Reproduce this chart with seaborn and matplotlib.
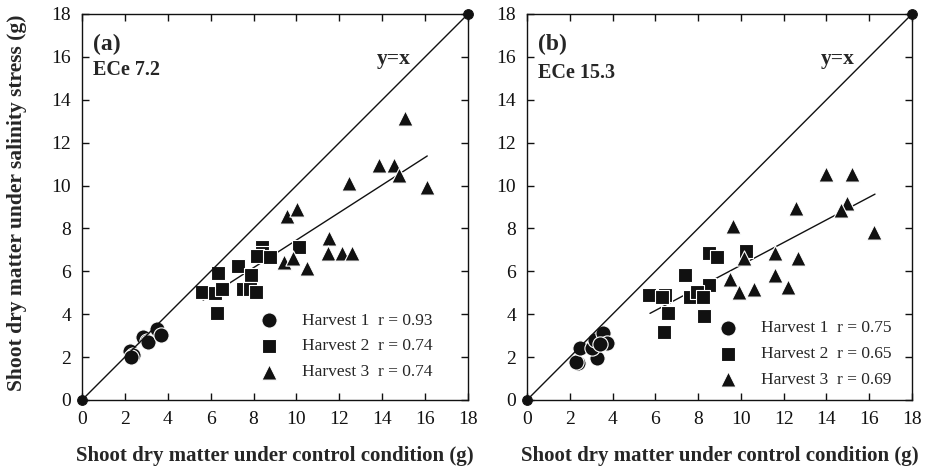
import numpy as np
import pandas as pd
import matplotlib
matplotlib.use("Agg")
import matplotlib.pyplot as plt
import seaborn as sns

# ---------------- data ----------------
ticks = [0, 2, 4, 6, 8, 10, 12, 14, 16, 18]
ref_x = [0, 18]
ref_y = [0, 18]

# Panel (a) ECe 7.2
a_h1_x = [2.24, 2.39, 2.30, 2.86, 3.02, 3.10, 3.48, 3.67]
a_h1_y = [2.29, 2.10, 2.00, 2.92, 2.77, 2.72, 3.30, 3.03]
a_h2_x = [10.14, 8.38, 8.38, 8.18, 8.77, 7.29, 6.36, 7.88, 5.58, 6.20, 6.52, 7.52, 7.84, 8.12, 6.31]
a_h2_y = [7.12, 7.15, 6.84, 6.72, 6.65, 6.25, 5.90, 5.83, 5.05, 5.00, 5.16, 5.16, 5.16, 5.05, 4.07]
a_h3_x = [13.87, 14.55, 14.80, 12.47, 16.08, 9.55, 10.04, 11.52, 11.49, 12.11, 12.60, 9.44, 9.83, 10.51, 15.07]
a_h3_y = [10.96, 10.96, 10.50, 10.13, 9.95, 8.58, 8.89, 7.54, 6.84, 6.84, 6.84, 6.45, 6.60, 6.17, 13.15]
a_fit_x = [5.65, 16.10]
a_fit_y = [4.66, 11.38]
a_labels = ["Harvest 1  r = 0.93", "Harvest 2  r = 0.74", "Harvest 3  r = 0.74"]

# Panel (b) ECe 15.3
b_h1_x = [2.40, 2.30, 2.48, 3.26, 3.02, 3.18, 3.57, 3.75, 3.40]
b_h1_y = [1.71, 1.75, 2.41, 1.94, 2.41, 2.80, 3.11, 2.64, 2.60]
b_h2_x = [8.52, 8.87, 10.24, 7.39, 8.52, 5.72, 6.45, 6.30, 7.62, 7.96, 8.24, 6.60, 8.29, 6.42]
b_h2_y = [6.84, 6.65, 6.96, 5.83, 5.36, 4.90, 4.90, 4.82, 4.82, 5.05, 4.82, 4.04, 3.93, 3.16]
b_h3_x = [13.98, 15.18, 14.95, 14.67, 12.58, 16.22, 9.65, 10.16, 11.59, 12.65, 11.59, 12.22, 9.49, 9.91, 10.63]
b_h3_y = [10.54, 10.54, 9.20, 8.86, 8.94, 7.85, 8.12, 6.61, 6.84, 6.61, 5.83, 5.28, 5.63, 5.05, 5.16]
b_fit_x = [5.75, 16.27]
b_fit_y = [4.04, 9.60]
b_labels = ["Harvest 1  r = 0.75", "Harvest 2  r = 0.65", "Harvest 3  r = 0.69"]

panels = [
    dict(tag="(a)", ece="ECe 7.2", ece_y=15.4, h=[(a_h1_x, a_h1_y), (a_h2_x, a_h2_y), (a_h3_x, a_h3_y)],
         fit=(a_fit_x, a_fit_y), labels=a_labels, pos=[82/926, 1-400/475, 386/926, 386/475],
         legend_anchor=(0.94, 0.02)),
    dict(tag="(b)", ece="ECe 15.3", ece_y=15.25, h=[(b_h1_x, b_h1_y), (b_h2_x, b_h2_y), (b_h3_x, b_h3_y)],
         fit=(b_fit_x, b_fit_y), labels=b_labels, pos=[527/926, 1-400/475, 385/926, 386/475],
         legend_anchor=(0.978, 0.0)),
]

# ---------------- style ----------------
sns.set_style("ticks")
plt.rcParams["font.family"] = ["Liberation Serif", "DejaVu Serif"]

fig = plt.figure(figsize=(9.26, 4.75), dpi=100)
markers = ["o", "s", "^"]
sizes = [120, 110, 120]
ink = "#111111"

for p in panels:
    ax = fig.add_axes(p["pos"])
    # y = x reference line with end dots
    sns.lineplot(x=ref_x, y=ref_y, ax=ax, color=ink, lw=1.0, marker="o", markersize=7,
                 markeredgecolor=ink, clip_on=False, zorder=5, legend=False)
    # regression line
    sns.lineplot(x=p["fit"][0], y=p["fit"][1], ax=ax, color=ink, lw=1.0, legend=False, zorder=3)
    for (xs, ys), m, s, lab in zip(p["h"], markers, sizes, p["labels"]):
        df = pd.DataFrame({"x": xs, "y": ys})
        sns.scatterplot(data=df, x="x", y="y", ax=ax, marker=m, s=s, color=ink,
                        edgecolor="white", linewidth=0.8, label=lab, zorder=4)
    ax.set_xlim(0, 18)
    ax.set_ylim(0, 18)
    ax.set_xticks(ticks)
    ax.set_yticks(ticks)
    ax.tick_params(direction="in", top=True, right=True, length=5, width=1,
                   labelsize=14, pad=8, colors=ink)
    for sp in ax.spines.values():
        sp.set_linewidth(1.0)
        sp.set_color(ink)
    ax.set_xlabel("Shoot dry matter under control condition (g)", fontsize=15,
                  fontweight="bold", labelpad=13)
    ax.set_ylabel("")
    ax.text(0.5, 16.56, p["tag"], fontsize=17, fontweight="bold", ha="left", va="center")
    ax.text(0.5, p["ece_y"], p["ece"], fontsize=14.5, fontweight="bold", ha="left", va="center")
    ax.text(13.75, 15.9, "y=x", fontsize=15.5, fontweight="bold", ha="left", va="center")
    ax.legend(loc="lower right", bbox_to_anchor=p["legend_anchor"], frameon=False,
              fontsize=12.5, handletextpad=0.9, labelspacing=0.55, borderaxespad=0.3)

fig.text(17/926, 1-203/475, "Shoot dry matter under salinity stress (g)", rotation=90,
         fontsize=15.5, fontweight="bold", ha="center", va="center")

fig.savefig("out.png", dpi=100)
